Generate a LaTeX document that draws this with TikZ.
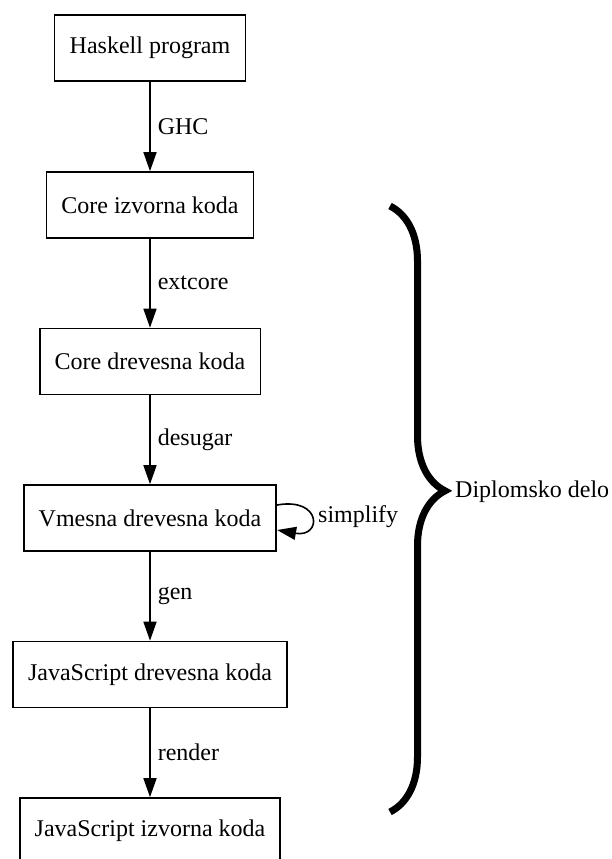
\documentclass[tikz,border=0pt]{standalone}
\usepackage{fontspec}
\setmainfont{Liberation Serif}
\usetikzlibrary{arrows.meta,decorations.pathreplacing}
\begin{document}
\begin{tikzpicture}[x=1pt,y=-1pt,
  stagebox/.style={draw, line width=1.6pt, minimum height=66pt, inner xsep=15pt,
    font=\fontsize{24}{28}\selectfont},
  flow/.style={line width=1.6pt, -{Triangle[length=19pt,width=13pt]}},
  elabel/.style={midway, anchor=west, xshift=7pt, inner sep=0pt, font=\fontsize{24}{28}\selectfont}]
\useasboundingbox (0,0) rectangle (611,859);
\node[stagebox] (hs) at (150,48) {Haskell program};
\node[stagebox] (ci) at (150,205) {Core izvorna koda};
\node[stagebox] (cd) at (150,361.5) {Core drevesna koda};
\node[stagebox] (vm) at (150,518) {Vmesna drevesna koda};
\node[stagebox] (jd) at (150,674.5) {JavaScript drevesna koda};
\node[stagebox] (ji) at (150,831) {JavaScript izvorna koda};
\draw[flow] (hs) -- (ci) node[elabel] {GHC};
\draw[flow] (ci) -- (cd) node[elabel] {extcore};
\draw[flow] (cd) -- (vm) node[elabel] {desugar};
\draw[flow] (vm) -- (jd) node[elabel] {gen};
\draw[flow] (jd) -- (ji) node[elabel] {render};
\draw[flow] ([yshift=13pt]vm.east) .. controls +(45,-8) and +(45,8) .. ([yshift=-12pt]vm.east);
\node[anchor=west, inner sep=0pt, font=\fontsize{24}{28}\selectfont] (simp) at (318,517) {simplify};
\coordinate (bt) at (390,206);
\coordinate (bb) at (390,812);
\draw[line width=7pt, decorate, decoration={brace, amplitude=55pt, aspect=0.47}] (bt) -- (bb);
\node[anchor=west, inner sep=0pt, font=\fontsize{24}{28}\selectfont] (dl) at (455,492) {Diplomsko delo};
\end{tikzpicture}
\end{document}
